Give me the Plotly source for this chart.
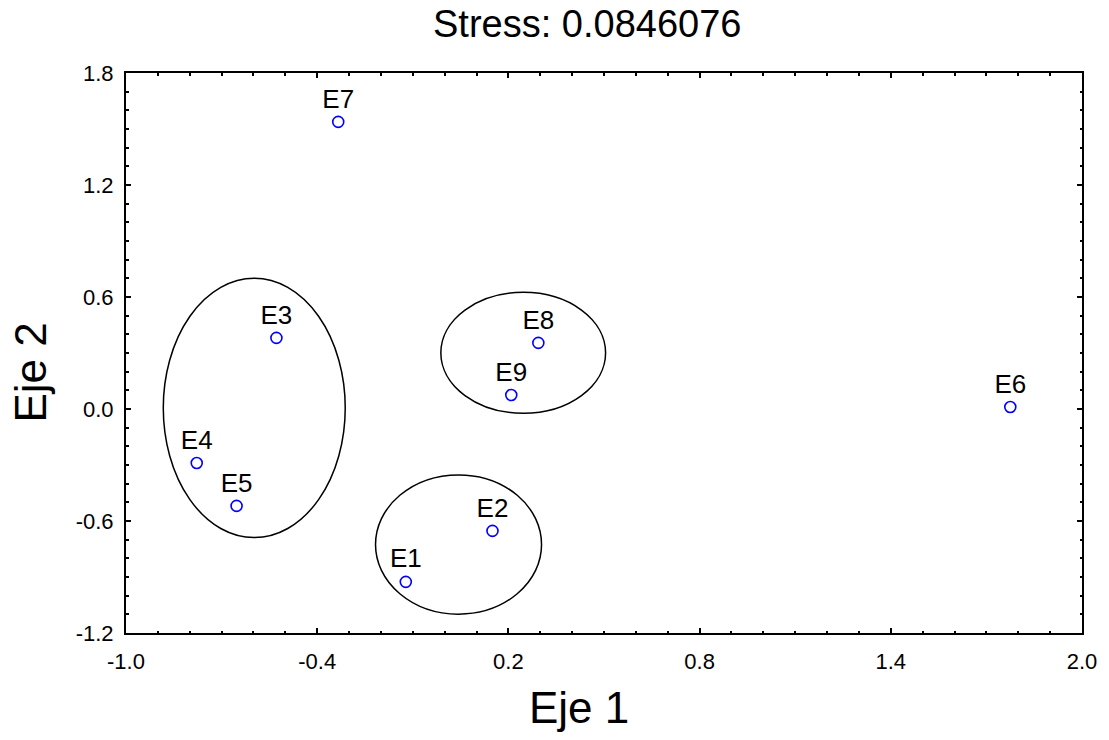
import plotly.graph_objects as go

# MDS configuration (two dimensions)
labels = ["E1", "E2", "E3", "E4", "E5", "E6", "E7", "E8", "E9"]
eje1 = [-0.122, 0.150, -0.528, -0.778, -0.653, 1.775, -0.334, 0.294, 0.209]
eje2 = [-0.926, -0.653, 0.381, -0.289, -0.519, 0.011, 1.538, 0.354, 0.075]

stress = 0.0846076

# cluster outlines: (x_min, x_max, y_min, y_max)
clusters = [
    (-0.883, -0.312, -0.689, 0.700),
    (-0.012, 0.505, -0.023, 0.625),
    (-0.217, 0.304, -1.099, -0.353),
]

x_ticks = [-1.0, -0.4, 0.2, 0.8, 1.4, 2.0]
y_ticks = [-1.2, -0.6, 0.0, 0.6, 1.2, 1.8]

FONT = "Liberation Sans, Arial, sans-serif"

fig = go.Figure()

for (x0, x1, y0, y1) in clusters:
    fig.add_shape(type="circle", xref="x", yref="y", x0=x0, x1=x1, y0=y0, y1=y1,
                  line=dict(color="black", width=1.5), layer="above")

fig.add_trace(go.Scatter(
    x=eje1, y=eje2, mode="markers+text", text=labels,
    textposition="top center",
    textfont=dict(family=FONT, size=26, color="black"),
    marker=dict(symbol="circle-open", size=11, color="#0000ff",
                line=dict(width=1.6, color="#0000ff")),
    showlegend=False, cliponaxis=False,
))

axis_common = dict(
    showgrid=False, zeroline=False, showline=True, linecolor="black", linewidth=2,
    mirror="allticks", ticks="inside", ticklen=5, tickwidth=1.5, tickcolor="black",
    tickfont=dict(family=FONT, size=22, color="black"),
)

fig.update_xaxes(range=[-1.0, 2.0], tickvals=x_ticks,
                 ticktext=[f"{v:.1f}" for v in x_ticks],
                 minor=dict(dtick=0.1, tick0=-1.0, ticks="inside", ticklen=2.5,
                            tickwidth=1.5, tickcolor="black", showgrid=False),
                 ticklabelstandoff=8, **axis_common)
fig.update_yaxes(range=[-1.2, 1.8], tickvals=y_ticks,
                 ticktext=[f"{v:.1f}" for v in y_ticks],
                 minor=dict(dtick=0.1, tick0=-1.2, ticks="inside", ticklen=2.5,
                            tickwidth=1.5, tickcolor="black", showgrid=False),
                 ticklabelstandoff=6, **axis_common)

fig.add_annotation(text=f"Stress: {stress}", xref="paper", yref="paper",
                   x=(589.5 - 126) / 961, y=(633 - 24) / 560,
                   xanchor="center", yanchor="middle", showarrow=False,
                   font=dict(family=FONT, size=38, color="black"))
fig.add_annotation(text="Eje 1", xref="paper", yref="paper",
                   x=(581 - 126) / 961, y=(633 - 707) / 560,
                   xanchor="center", yanchor="middle", showarrow=False,
                   font=dict(family=FONT, size=44, color="black"))
fig.add_annotation(text="Eje 2", xref="paper", yref="paper",
                   x=(30 - 126) / 961, y=(633 - 372) / 560,
                   xanchor="center", yanchor="middle", showarrow=False,
                   textangle=-90,
                   font=dict(family=FONT, size=44, color="black"))

fig.update_layout(
    width=1109, height=740,
    margin=dict(l=126, r=22, t=73, b=107),
    paper_bgcolor="white", plot_bgcolor="white",
)

fig.write_html("out.html")
